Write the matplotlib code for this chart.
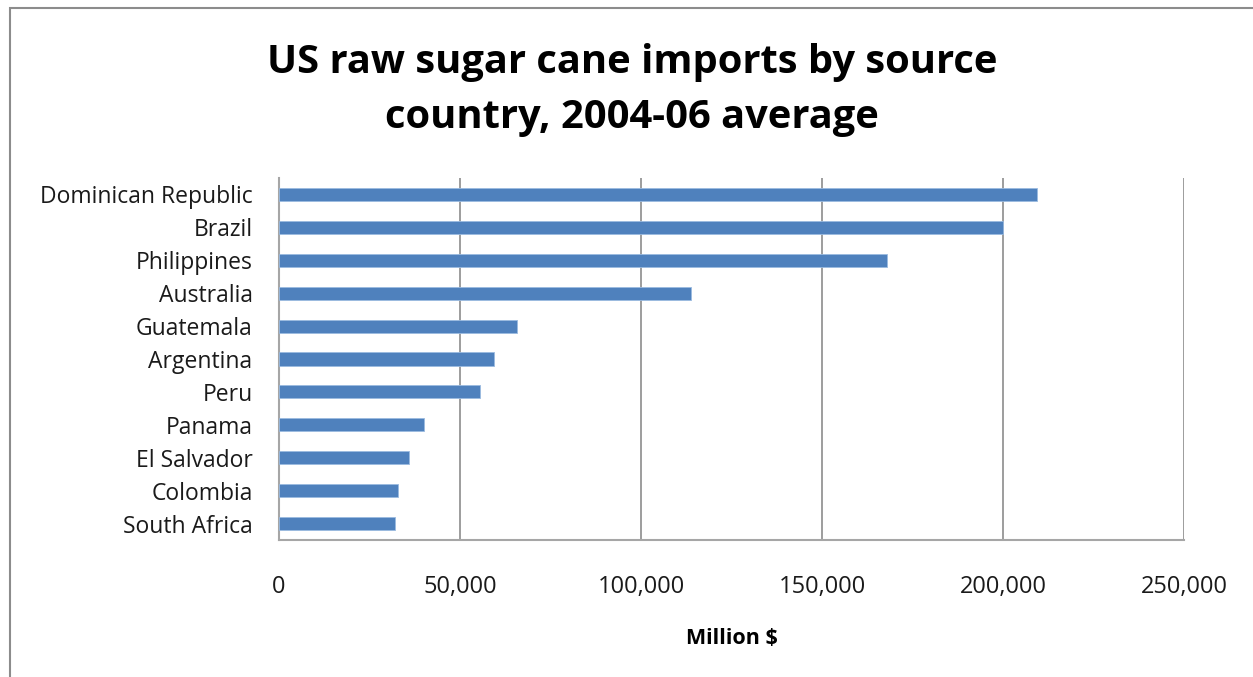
import matplotlib
matplotlib.use("Agg")
import matplotlib.pyplot as plt
from matplotlib.ticker import FuncFormatter
from matplotlib.patches import Rectangle

plt.rcParams.update({"font.family": ["Open Sans", "DejaVu Sans"]})

countries = ["Dominican Republic", "Brazil", "Philippines", "Australia", "Guatemala",
             "Argentina", "Peru", "Panama", "El Salvador", "Colombia", "South Africa"]
imports = [209500, 200000, 168000, 113800, 65700, 59500, 55500, 40000, 35800, 33000, 32000]
xticks = [0, 50000, 100000, 150000, 200000, 250000]

fig = plt.figure(figsize=(12.53, 6.77), dpi=100)
W, H = 1253, 677
# chart frame (runs past the right/bottom edge of the crop)
fig.patches.append(Rectangle((10 / W, -0.5), 1.5, 1.5 - 8 / H, transform=fig.transFigure,
                             fill=False, edgecolor="#8c8c8c", lw=1.5))
ax = fig.add_axes([279 / W, 1 - 540 / H, (1184 - 279) / W, (540 - 178) / H])

y = list(range(len(countries)))[::-1]
ax.barh(y, imports, height=0.4, color="#4f81bd", edgecolor="#9bbbe0", lw=0.6, zorder=3)
ax.set_xlim(0, 250000)
ax.set_ylim(-0.5, len(countries) - 0.5)
ax.set_yticks(y)
ax.set_yticklabels(countries, fontsize=16.5, color="#1a1a1a")
ax.set_xticks(xticks)
ax.xaxis.set_major_formatter(FuncFormatter(lambda v, p: f"{int(v):,}"))
ax.tick_params(axis="x", length=0, pad=25, labelsize=17, labelcolor="#1a1a1a")
ax.tick_params(axis="y", length=0, pad=19)
ax.grid(axis="x", color="#8c8c8c", lw=1.2, zorder=0)
for s in ["top", "right"]:
    ax.spines[s].set_visible(False)
for s in ["left", "bottom"]:
    ax.spines[s].set_color("#a6a6a6")
    ax.spines[s].set_linewidth(1.5)
ax.set_xlabel("Million $", fontsize=15.5, fontweight="bold", labelpad=21)

fig.text(632 / W, 1 - 90 / H, "US raw sugar cane imports by source\ncountry, 2004-06 average",
         ha="center", va="center", fontsize=28.7, fontweight="bold", linespacing=1.55)
fig.savefig("out.png", dpi=100)
